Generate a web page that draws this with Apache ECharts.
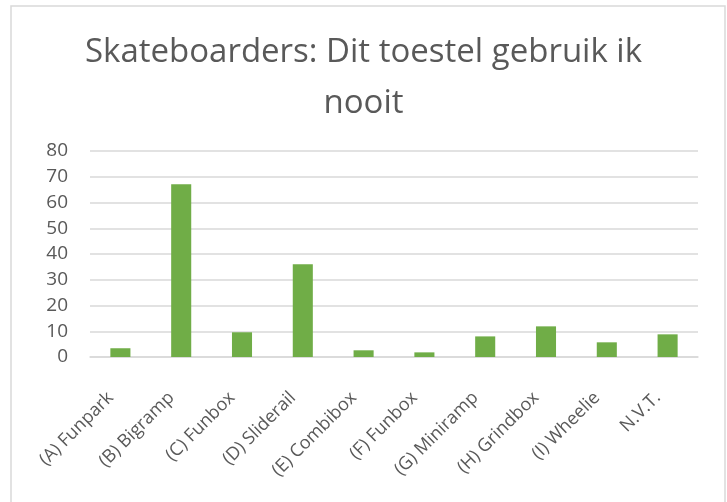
<!DOCTYPE html>
<html>
<head>
<meta charset="utf-8">
<script src="https://cdn.jsdelivr.net/npm/echarts@6/dist/echarts.min.js"></script>
<style>
  html, body { margin: 0; padding: 0; background: #fff; }
  #chart { width: 727px; height: 502px; }
</style>
</head>
<body>
<div id="chart"></div>
<script>
// data
const categories = ['(A) Funpark', '(B) Bigramp', '(C) Funbox', '(D) Sliderail', '(E) Combibox',
  '(F) Funbox', '(G) Miniramp', '(H) Grindbox', '(I) Wheelie', 'N.V.T.']
const values = [3.4, 67.1, 9.6, 36, 2.6, 1.8, 8, 11.9, 5.7, 8.8]
const titleText = 'Skateboarders: Dit toestel gebruik ik\nnooit'

const font = "'Open Sans', sans-serif"
const chart = echarts.init(document.getElementById('chart'))

chart.setOption({
  animation: false,
  backgroundColor: '#fff',
  graphic: [{
    type: 'rect',
    shape: { x: 11, y: 6, width: 714, height: 520 },
    style: { fill: 'none', stroke: '#d9d9d9', lineWidth: 1.5 },
    silent: true
  }],
  title: {
    text: titleText,
    left: 'center',
    top: 22,
    textStyle: {
      fontFamily: font,
      fontSize: 33,
      fontWeight: 'normal',
      color: '#595959',
      lineHeight: 51,
      align: 'center'
    }
  },
  grid: { left: 90, right: 29, top: 151, bottom: 145 },
  xAxis: {
    type: 'category',
    data: categories,
    axisLine: { lineStyle: { color: '#d9d9d9', width: 1.5 } },
    axisTick: { show: false },
    axisLabel: {
      rotate: 45,
      margin: 28,
      padding: [0, 14, 0, 0],
      interval: 0,
      fontFamily: font,
      fontSize: 18,
      color: '#595959'
    }
  },
  yAxis: {
    type: 'value',
    min: 0,
    max: 80,
    interval: 10,
    axisLine: { show: false },
    axisTick: { show: false },
    splitLine: { lineStyle: { color: '#d9d9d9', width: 1.5 } },
    axisLabel: {
      margin: 22,
      fontFamily: font,
      fontSize: 19,
      color: '#595959'
    }
  },
  series: [{
    type: 'bar',
    data: values,
    barWidth: '33%',
    itemStyle: { color: '#70ad47' }
  }]
})
</script>
</body>
</html>
